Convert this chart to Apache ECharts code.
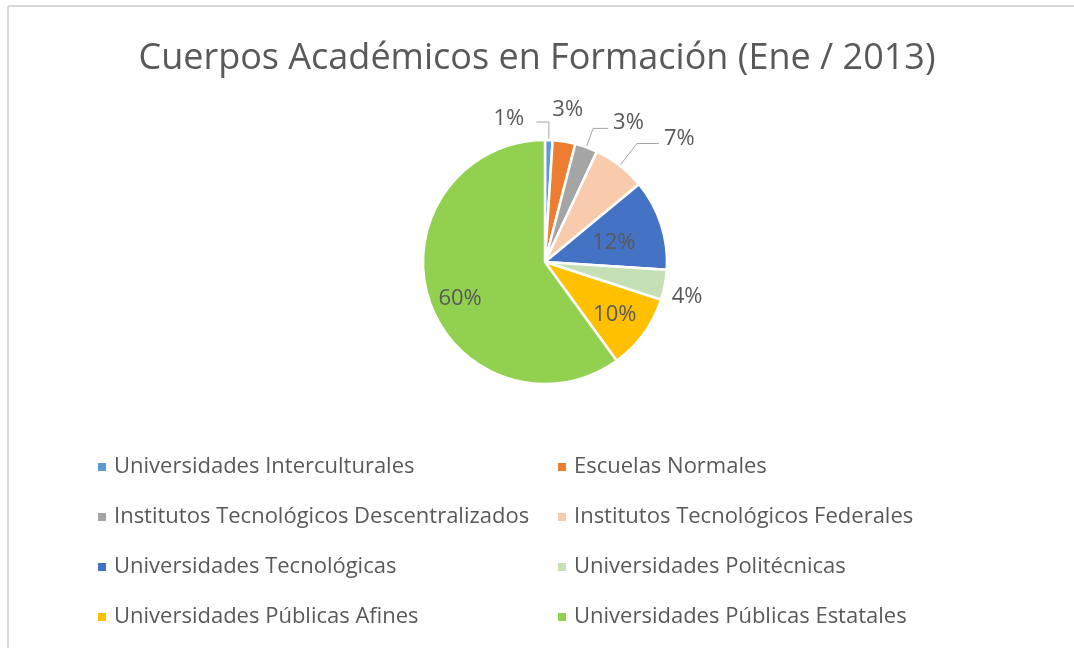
<!DOCTYPE html>
<html>
<head>
<meta charset="utf-8">
<script src="https://cdn.jsdelivr.net/npm/echarts@6/dist/echarts.min.js"></script>
<style>
  html, body { margin: 0; padding: 0; background: #fff; }
  #chart { width: 1074px; height: 648px; }
</style>
</head>
<body>
<div id="chart"></div>
<script>
var categorias = [
  'Universidades Interculturales',
  'Escuelas Normales',
  'Institutos Tecnológicos Descentralizados',
  'Institutos Tecnológicos Federales',
  'Universidades Tecnológicas',
  'Universidades Politécnicas',
  'Universidades Públicas Afines',
  'Universidades Públicas Estatales'
];
var porcentajes = [1, 3, 3, 7, 12, 4, 10, 60];
var colores = ['#5B9BD5', '#ED7D31', '#A5A5A5', '#F8CBAD', '#4472C4', '#C5E0B4', '#FFC000', '#92D050'];

// which labels sit inside the slice, which get a leader line
var dentro = [false, false, false, false, true, false, true, true];
var conLinea = [true, false, true, true, false, false, false, false];
var largoLinea = [18, 8, 20, 28, 20, 5, 20, 20];
var largoLinea2 = [-13, 0, 15, 22, 14, 0, 14, 14];
// small nudges so the labels land where excel put them
var ajusteX = [-48, -18, 0, 0, 8, -3, 18, -24];
var ajusteY = [-3, -24, -6, -5, 1, 11, 15, 17];

var fuente = "'Open Sans', sans-serif";
var gris = '#595959';

var chartDom = document.getElementById('chart');
var myChart = echarts.init(chartDom);

var datos = porcentajes.map(function (v, i) {
  return {
    name: categorias[i],
    value: v,
    itemStyle: { color: colores[i] },
    label: { position: dentro[i] ? 'inside' : 'outside' },
    labelLine: { show: conLinea[i], length: largoLinea[i], length2: largoLinea2[i] }
  };
});

var izq = [], der = [];
categorias.forEach(function (c, i) {
  if (i % 2 == 0) izq.push(c); else der.push(c);
});

function leyenda(lista, x) {
  return {
    data: lista,
    orient: 'vertical',
    left: x,
    top: 454,
    padding: 0,
    icon: 'rect',
    itemWidth: 10,
    itemHeight: 10,
    itemGap: 24,
    selectedMode: false,
    textStyle: {
      fontFamily: fuente,
      fontSize: 22,
      color: gris,
      lineHeight: 26,
      padding: [0, 0, 0, 2]
    }
  };
}

var option = {
  animation: false,
  backgroundColor: '#fff',
  title: {
    text: 'Cuerpos Académicos en Formación (Ene / 2013)',
    left: 'center',
    top: 36,
    textStyle: {
      fontFamily: fuente,
      fontSize: 36,
      fontWeight: 'normal',
      color: gris
    }
  },
  legend: [leyenda(izq, 96), leyenda(der, 556)],
  graphic: [
    { type: 'line', shape: { x1: 8, y1: 6, x2: 1074, y2: 6 }, style: { stroke: '#d9d9d9', lineWidth: 2 } },
    { type: 'line', shape: { x1: 8, y1: 6, x2: 8, y2: 648 }, style: { stroke: '#d9d9d9', lineWidth: 2 } }
  ],
  series: [
    {
      type: 'pie',
      center: [545, 262],
      radius: 122,
      startAngle: 90,
      clockwise: true,
      avoidLabelOverlap: false,
      itemStyle: {
        borderColor: '#fff',
        borderWidth: 2.5
      },
      label: {
        formatter: '{c}%',
        fontFamily: fuente,
        fontSize: 22,
        color: gris
      },
      labelLine: {
        lineStyle: { color: '#a6a6a6', width: 1 }
      },
      labelLayout: function (params) {
        var i = params.dataIndex;
        return { dx: ajusteX[i], dy: ajusteY[i] };
      },
      data: datos
    }
  ]
};

myChart.setOption(option);
</script>
</body>
</html>
